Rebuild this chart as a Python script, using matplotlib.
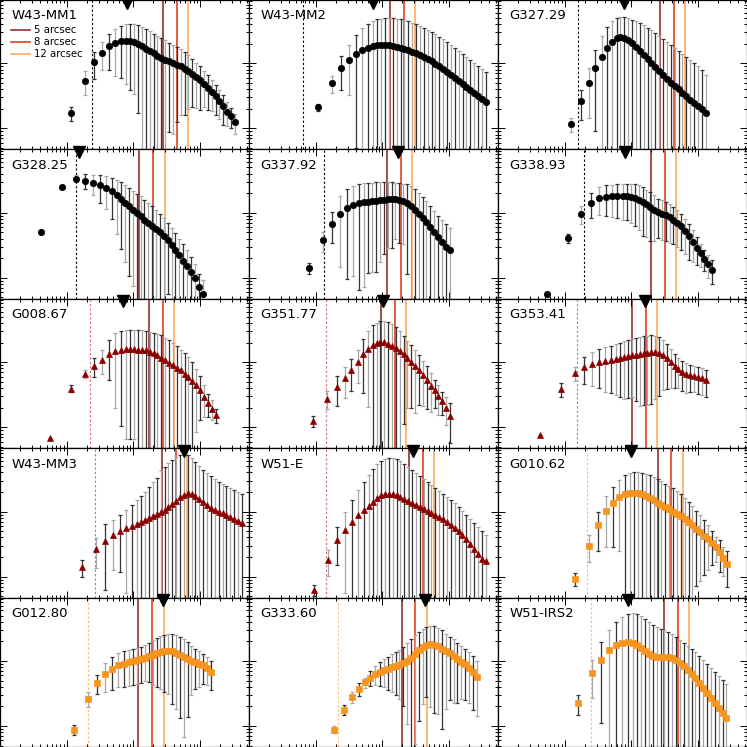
import numpy as np
import matplotlib.pyplot as plt

# lag grid (common to all sources, arbitrary units)
lags = [1.0, 2.07, 3.31, 4.62, 6.10, 7.71, 9.51, 11.5, 13.7, 16.0, 18.3, 20.9, 23.9, 27.4,
        31.3, 35.7, 40.8, 46.7, 53.3, 61.0, 69.7, 79.6, 91.0, 104, 119, 136, 155, 177,
        203, 232, 265, 303, 346, 395, 452, 516, 590, 675, 771, 881]

arcsec = [5, 8, 12]
arcsec_colors = ['#962f2f', '#e2401c', '#ffab5c']

# log10 values and log10 of upper error end
w43mm1_lg = [1.235, 1.734, 2.015, 2.165, 2.262, 2.308, 2.338, 2.349, 2.349, 2.334, 2.303, 2.262,
             2.226, 2.195, 2.158, 2.118, 2.082, 2.057, 2.035, 2.005, 1.980, 1.954, 1.918, 1.882,
             1.842, 1.789, 1.738, 1.688, 1.626, 1.565, 1.492, 1.420, 1.338, 1.257, 1.185, 1.097]
w43mm1_hi = [1.328, 1.877, 2.174, 2.328, 2.457, 2.534, 2.574, 2.600, 2.611, 2.600, 2.585, 2.558,
             2.528, 2.492, 2.457, 2.420, 2.389, 2.354, 2.318, 2.288, 2.251, 2.215, 2.174, 2.123,
             2.072, 2.011, 1.954, 1.882, 1.815, 1.738, 1.662, 1.585, 1.508, 1.405, 1.312, 1.226]

w43mm2_lg = [1.323, 1.692, 1.923, 2.046, 2.138, 2.2, 2.238, 2.262, 2.277, 2.285, 2.285, 2.277,
             2.269, 2.254, 2.238, 2.223, 2.2, 2.177, 2.154, 2.123, 2.092, 2.062, 2.031, 1.992,
             1.954, 1.908, 1.862, 1.815, 1.769, 1.723, 1.677, 1.631, 1.585, 1.538, 1.492, 1.446, 1.4]
w43mm2_hi = [1.369, 1.8, 2.108, 2.277, 2.431, 2.538, 2.6, 2.646, 2.677, 2.685, 2.692, 2.692,
             2.692, 2.685, 2.677, 2.662, 2.646, 2.623, 2.6, 2.569, 2.538, 2.508, 2.477, 2.446,
             2.408, 2.369, 2.323, 2.277, 2.231, 2.185, 2.138, 2.092, 2.046, 2.0, 1.954, 1.908, 1.862]

g32729_lg = [1.062, 1.415, 1.692, 1.923, 2.092, 2.231, 2.323, 2.385, 2.4, 2.385, 2.354, 2.308,
             2.246, 2.185, 2.123, 2.062, 2.0, 1.938, 1.877, 1.815, 1.754, 1.692, 1.646, 1.6,
             1.538, 1.492, 1.431, 1.385, 1.338, 1.292, 1.231]
g32729_hi = [1.154, 1.585, 1.923, 2.2, 2.415, 2.554, 2.646, 2.692, 2.708, 2.708, 2.692, 2.669,
             2.646, 2.615, 2.585, 2.546, 2.508, 2.462, 2.415, 2.369, 2.323, 2.277, 2.231, 2.185,
             2.138, 2.092, 2.046, 2.0, 1.954, 1.892, 1.815]

g32825_lg = [1.703, 2.395, 2.525, 2.494, 2.457, 2.422, 2.380, 2.329, 2.268, 2.206, 2.149, 2.098,
             2.048, 1.995, 1.945, 1.894, 1.848, 1.802, 1.749, 1.698, 1.637, 1.575, 1.498, 1.422,
             1.345, 1.257, 1.175, 1.083, 0.991, 0.857, 0.745]
g32825_hi = [1.703, 2.395, 2.575, 2.591, 2.586, 2.586, 2.565, 2.540, 2.509, 2.468, 2.422, 2.380,
             2.334, 2.294, 2.252, 2.202, 2.149, 2.098, 2.037, 1.986, 1.925, 1.842, 1.771, 1.688,
             1.602, 1.525, 1.422, 1.318, 1.217, 1.063, 0.960]

g33792_lg = [1.145, 1.575, 1.831, 1.985, 2.077, 2.123, 2.146, 2.162, 2.169, 2.177, 2.185, 2.192,
             2.2, 2.208, 2.208, 2.208, 2.2, 2.185, 2.154, 2.108, 2.046, 1.985, 1.923, 1.862,
             1.785, 1.708, 1.631, 1.554, 1.477, 1.431]
g33792_hi = [1.222, 1.698, 2.006, 2.252, 2.36, 2.406, 2.437, 2.452, 2.452, 2.46, 2.468, 2.468,
             2.468, 2.468, 2.468, 2.452, 2.452, 2.437, 2.437, 2.406, 2.36, 2.298, 2.237, 2.175,
             2.098, 2.022, 1.945, 1.883, 1.822, 1.76]

g33893_lg = [0.745, 1.611, 1.985, 2.155, 2.232, 2.248, 2.252, 2.252, 2.252, 2.252, 2.242, 2.226,
             2.202, 2.165, 2.129, 2.088, 2.046, 2.011, 1.985, 1.960, 1.934, 1.892, 1.842, 1.791,
             1.718, 1.637, 1.549, 1.462, 1.380, 1.294, 1.206, 1.125]
g33893_hi = [0.745, 1.678, 2.098, 2.309, 2.395, 2.422, 2.432, 2.437, 2.448, 2.448, 2.448, 2.437,
             2.422, 2.395, 2.355, 2.318, 2.268, 2.217, 2.191, 2.165, 2.140, 2.088, 2.037, 1.986,
             1.909, 1.832, 1.729, 1.626, 1.525, 1.422, 1.345, 1.268]

g00867_lg = [0.832, 1.592, 1.823, 1.946, 2.038, 2.131, 2.177, 2.192, 2.197, 2.197, 2.197, 2.192,
             2.192, 2.182, 2.162, 2.140, 2.105, 2.063, 2.028, 1.986, 1.951, 1.915, 1.874, 1.823,
             1.771, 1.709, 1.643, 1.566, 1.463, 1.371, 1.285, 1.186]
g00867_hi = [0.832, 1.643, 1.885, 2.069, 2.182, 2.335, 2.448, 2.478, 2.489, 2.489, 2.489, 2.489,
             2.489, 2.478, 2.469, 2.454, 2.438, 2.412, 2.377, 2.335, 2.294, 2.243, 2.192, 2.140,
             2.078, 2.002, 1.900, 1.782, 1.643, 1.515, 1.412, 1.285]

g35177_lg = [1.094, 1.438, 1.612, 1.751, 1.874, 2.008, 2.120, 2.202, 2.269, 2.300, 2.309, 2.305,
             2.285, 2.254, 2.223, 2.177, 2.120, 2.063, 2.002, 1.935, 1.874, 1.797, 1.720, 1.628,
             1.566, 1.474, 1.397, 1.300, 1.166]
g35177_hi = [1.166, 1.551, 1.782, 1.925, 2.054, 2.192, 2.362, 2.474, 2.577, 2.608, 2.628, 2.628,
             2.617, 2.592, 2.540, 2.478, 2.402, 2.325, 2.258, 2.192, 2.105, 2.017, 1.935, 1.832,
             1.731, 1.643, 1.540, 1.463, 1.371]

g35341_lg = [0.877, 1.582, 1.828, 1.92, 1.966, 1.997, 2.012, 2.028, 2.043, 2.058, 2.074, 2.089,
             2.105, 2.112, 2.12, 2.135, 2.143, 2.151, 2.151, 2.135, 2.105, 2.058, 1.997, 1.935,
             1.889, 1.843, 1.812, 1.797, 1.782, 1.766, 1.751, 1.72]
g35341_hi = [0.877, 1.677, 1.923, 2.077, 2.154, 2.2, 2.231, 2.254, 2.277, 2.3, 2.323, 2.338,
             2.354, 2.369, 2.385, 2.4, 2.408, 2.415, 2.408, 2.385, 2.338, 2.277, 2.2, 2.123,
             2.062, 2.015, 1.985, 1.954, 1.938, 1.923, 1.908, 1.877]

w43mm3_lg = [1.142, 1.418, 1.542, 1.634, 1.695, 1.74, 1.78, 1.81, 1.84, 1.87, 1.90, 1.93, 1.96,
             1.99, 2.03, 2.07, 2.12, 2.17, 2.22, 2.26, 2.28, 2.27, 2.24, 2.20, 2.15, 2.10, 2.06,
             2.03, 2.00, 1.98, 1.95, 1.92, 1.89, 1.85, 1.82]
w43mm3_hi = [1.249, 1.588, 1.803, 1.865, 1.942, 2.018, 2.095, 2.172, 2.234, 2.295, 2.372, 2.449,
             2.52, 2.618, 2.68, 2.742, 2.788, 2.834, 2.865, 2.88, 2.865, 2.818, 2.757, 2.695,
             2.634, 2.588, 2.542, 2.495, 2.449, 2.418, 2.388, 2.357, 2.326, 2.295, 2.265]

w51e_lg = [0.788, 1.249, 1.557, 1.711, 1.834, 1.942, 2.018, 2.09, 2.15, 2.215, 2.254, 2.277,
           2.277, 2.269, 2.254, 2.231, 2.2, 2.169, 2.138, 2.108, 2.077, 2.046, 2.015, 1.985,
           1.954, 1.923, 1.885, 1.846, 1.8, 1.754, 1.708, 1.646, 1.585, 1.508, 1.431, 1.354,
           1.277, 1.246]
w51e_hi = [0.865, 1.403, 1.757, 1.988, 2.172, 2.326, 2.449, 2.557, 2.649, 2.726, 2.772, 2.803,
           2.818, 2.818, 2.803, 2.772, 2.726, 2.68, 2.634, 2.588, 2.542, 2.495, 2.449, 2.403,
           2.357, 2.311, 2.265, 2.218, 2.172, 2.126, 2.065, 2.003, 1.942, 1.88, 1.818, 1.757,
           1.695, 1.634]

g01062_lg = [0.968, 1.475, 1.792, 2.003, 2.131, 2.223, 2.269, 2.285, 2.291, 2.280, 2.265, 2.245,
             2.214, 2.177, 2.137, 2.106, 2.069, 2.034, 1.998, 1.962, 1.926, 1.885, 1.845, 1.792,
             1.737, 1.685, 1.623, 1.572, 1.515, 1.460, 1.377, 1.285, 1.198]
g01062_hi = [1.060, 1.634, 1.998, 2.238, 2.383, 2.491, 2.568, 2.598, 2.608, 2.603, 2.592, 2.577,
             2.562, 2.531, 2.495, 2.465, 2.429, 2.392, 2.357, 2.315, 2.275, 2.214, 2.152, 2.080,
             2.008, 1.946, 1.865, 1.792, 1.700, 1.614, 1.557, 1.454, 1.392]

g01280_lg = [0.943, 1.420, 1.660, 1.798, 1.882, 1.932, 1.958, 1.978, 1.994, 2.009, 2.025, 2.051,
             2.071, 2.097, 2.122, 2.143, 2.152, 2.158, 2.148, 2.128, 2.097, 2.055, 2.025, 1.998,
             1.978, 1.958, 1.937, 1.897, 1.829]
g01280_hi = [1.009, 1.517, 1.783, 1.963, 2.066, 2.117, 2.152, 2.174, 2.189, 2.205, 2.220, 2.245,
             2.275, 2.317, 2.352, 2.383, 2.398, 2.409, 2.414, 2.398, 2.374, 2.343, 2.297, 2.229,
             2.183, 2.152, 2.112, 2.060, 1.994]

g33360_lg = [0.943, 1.251, 1.445, 1.574, 1.671, 1.743, 1.798, 1.835, 1.866, 1.882, 1.902, 1.922,
             1.943, 1.963, 1.994, 2.040, 2.106, 2.168, 2.220, 2.251, 2.260, 2.251, 2.225, 2.183,
             2.148, 2.117, 2.075, 2.029, 1.989, 1.948, 1.897, 1.835, 1.752]
g33360_hi = [0.994, 1.317, 1.522, 1.660, 1.743, 1.840, 1.917, 1.983, 2.029, 2.066, 2.102, 2.137,
             2.174, 2.214, 2.271, 2.337, 2.398, 2.451, 2.491, 2.517, 2.537, 2.532, 2.506, 2.471,
             2.420, 2.374, 2.332, 2.282, 2.229, 2.183, 2.132, 2.075, 1.994]

w51irs2_lg = [1.348, 1.809, 2.009, 2.163, 2.24, 2.271, 2.286, 2.271, 2.24, 2.194, 2.148, 2.102,
              2.071, 2.055, 2.055, 2.055, 2.055, 2.04, 2.009, 1.963, 1.917, 1.855, 1.794, 1.732,
              1.655, 1.578, 1.502, 1.425, 1.348, 1.271, 1.2, 1.12]
w51irs2_hi = [1.471, 2.009, 2.286, 2.471, 2.594, 2.671, 2.717, 2.732, 2.717, 2.686, 2.64, 2.594,
              2.548, 2.517, 2.486, 2.471, 2.44, 2.409, 2.363, 2.317, 2.271, 2.225, 2.178, 2.132,
              2.071, 2.009, 1.948, 1.886, 1.825, 1.763, 1.702, 1.64]

# name, group, x of first lag, first lag index, x per arcsec, dashed line x, peak marker x
panels = [
    ('W43-MM1', 0, 0.562, 1, 5.56, 2.42, 7.94, w43mm1_lg, w43mm1_hi),
    ('W43-MM2', 0, 0.525, 1, 2.60, 0.645, 7.23, w43mm2_lg, w43mm2_hi),
    ('G327.29', 0, 0.375, 2, 5.37, 1.58, 7.74, g32729_lg, g32729_hi),
    ('G328.25', 0, 0.410, 0, 2.45, 1.38, 1.53, g32825_lg, g32825_hi),
    ('G337.92', 0, 0.384, 1, 2.35, 1.33, 17.1, g33792_lg, g33792_hi),
    ('G338.93', 0, 0.537, 0, 3.94, 1.97, 8.02, g33893_lg, g33893_hi),
    ('G008.67', 1, 0.562, 0, 3.43, 2.26, 7.06, g00867_lg, g00867_hi),
    ('G351.77', 1, 0.446, 1, 1.906, 1.43, 10.1, g35177_lg, g35177_hi),
    ('G353.41', 1, 0.426, 0, 2.04, 1.53, 16.0, g35341_lg, g35341_hi),
    ('W43-MM3', 1, 0.820, 1, 5.37, 2.66, 57.4, w43mm3_lg, w43mm3_hi),
    ('W51-E', 1, 0.457, 1, 5.00, 1.43, 28.7, w51e_lg, w51e_hi),
    ('G010.62', 2, 0.691, 1, 4.96, 2.18, 9.77, g01062_lg, g01062_hi),
    ('G012.80', 2, 0.623, 1, 2.37, 2.11, 28.1, g01280_lg, g01280_hi),
    ('G333.60', 2, 0.575, 2, 3.89, 2.16, 44.0, g33360_lg, g33360_hi),
    ('W51-IRS2', 2, 0.767, 1, 6.17, 2.48, 8.9, w51irs2_lg, w51irs2_hi),
]

markers = ['o', '^', 's']
mcolors = ['black', '#8b0000', '#f7941d']
msizes = [4.6, 4.8, 4.2]
dash_colors = ['black', '#d46a6a', '#ffb870']

fig, axes = plt.subplots(5, 3, figsize=(7.47, 7.47), dpi=100)
fig.subplots_adjust(left=0, right=1, bottom=0, top=1, wspace=0, hspace=0)

for ax, (name, grp, x0, s, xpa, xd, xt, lg, hi) in zip(axes.flat, panels):
    n = len(lg)
    x = np.array(lags[s:s + n]) * x0
    y = 10 ** np.array(lg)
    yh = 10 ** np.array(hi)
    eu = yh - y
    el = np.minimum(eu, y - 1e-3)
    idx = np.arange(s, s + n)

    for a, c in zip(arcsec, arcsec_colors):
        ax.axvline(a * xpa, color=c, lw=1.2, zorder=1.5)
    ax.axvline(xd, color=dash_colors[grp], lw=0.8, ls=(0, (2, 2)), zorder=1.5)

    # error bars alternate dark / light grey
    for parity, ec in [(1, '#333333'), (0, '#a8a8a8')]:
        m = idx % 2 == parity
        ax.errorbar(x[m], y[m], yerr=[el[m], eu[m]], fmt='none', ecolor=ec,
                    elinewidth=0.9, capsize=1.2, capthick=0.9, zorder=2)
    ax.plot(x, y, markers[grp], color=mcolors[grp], ms=msizes[grp], mec=mcolors[grp],
            mew=0.5, zorder=3)

    ax.plot([xt], [0.983], 'v', color='black', ms=8, transform=ax.get_xaxis_transform(),
            clip_on=False, zorder=10)

    ax.text(0.045, 0.893, name, transform=ax.transAxes, fontsize=9.5, va='center', ha='left')

    ax.set_xscale('log')
    ax.set_yscale('log')
    ax.set_xlim(0.1, 10 ** 2.733)
    ax.set_ylim(10 ** 0.677, 10 ** 2.975)
    ax.tick_params(which='both', direction='in', top=True, right=True,
                   labelleft=False, labelbottom=False, width=0.7)
    ax.tick_params(which='major', length=5)
    ax.tick_params(which='minor', length=2.5)
    for sp in ax.spines.values():
        sp.set_linewidth(0.9)

# legend in first panel
ax0 = axes[0, 0]
handles = [plt.Line2D([], [], color=c, lw=1.2) for c in arcsec_colors]
ax0.legend(handles, [f'{a} arcsec' for a in arcsec], loc='upper left',
           bbox_to_anchor=(0.045, 0.83), frameon=False, fontsize=7.3,
           handlelength=1.9, handletextpad=0.3, labelspacing=0.2, borderaxespad=0,
           borderpad=0)

fig.savefig('out.png', dpi=100)
